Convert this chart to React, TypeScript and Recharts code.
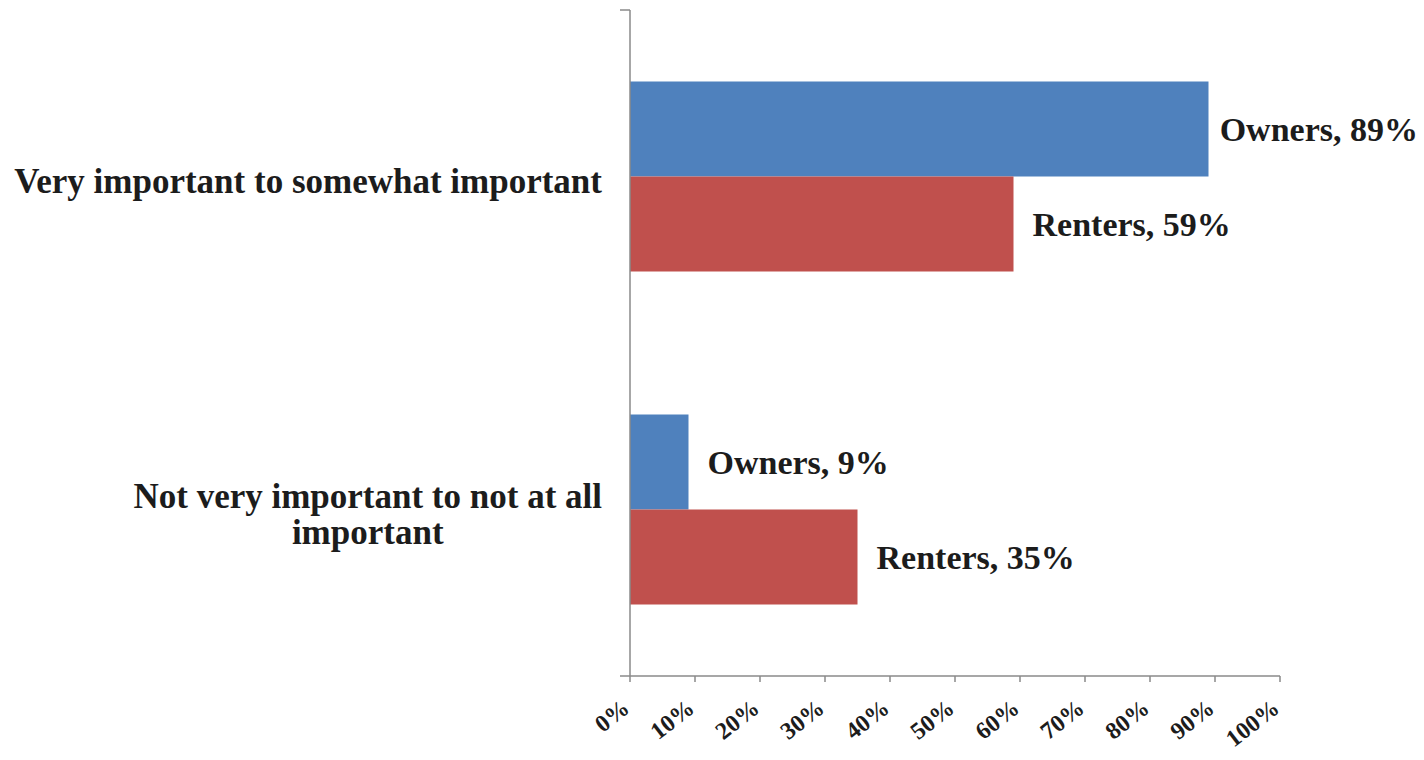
import React from "react";
import { BarChart, Bar, XAxis, YAxis, LabelList } from "recharts";

const CATEGORIES = [
  "Very important to somewhat important",
  "Not very important to not at all important",
];
const CATEGORY_LINES = [
  ["Very important to somewhat important"],
  ["Not very important to not at all", "important"],
];
const OWNERS = [89, 9];
const RENTERS = [59, 35];
const SERIES_NAMES = ["Owners", "Renters"];
const X_TICKS = [0, 10, 20, 30, 40, 50, 60, 70, 80, 90, 100];
const FRAME_TICKS = [0, 1, 2];

const data = CATEGORIES.map((c, i) => ({
  category: c,
  owners: OWNERS[i],
  renters: RENTERS[i],
}));

const W = 1424;
const H = 760;
const FONT = "'Liberation Serif', 'Times New Roman', serif";
const TEXT_COLOR = "#1c1c1c";
const AXIS_COLOR = "#8a8a8a";

let ctx: CanvasRenderingContext2D | null = null;
function measure(text: string, size: number): number {
  try {
    if (!ctx) ctx = document.createElement("canvas").getContext("2d");
    if (ctx) {
      ctx.font = `bold ${size}px 'Liberation Serif'`;
      return ctx.measureText(text).width;
    }
  } catch (e) {}
  return text.length * size * 0.5;
}

const CAT_FONT = 35;
const LINE_H = 36;

const CategoryTick = (props: any) => {
  const { x, y, payload, index } = props;
  const lines: string[] = CATEGORY_LINES[index] || [String(payload.value)];
  const widths = lines.map((l) => measure(l, CAT_FONT));
  const maxW = Math.max(...widths);
  const right = x + 10;
  const cx = right - maxW / 2;
  const startY = y + 4 - ((lines.length - 1) * LINE_H) / 2;
  return (
    <text
      x={cx}
      y={startY}
      textAnchor="middle"
      dominantBaseline="central"
      fontFamily={FONT}
      fontWeight="bold"
      fontSize={CAT_FONT}
      fill={TEXT_COLOR}
    >
      {lines.map((l, i) => (
        <tspan key={i} x={cx} y={startY + i * LINE_H}>
          {l}
        </tspan>
      ))}
    </text>
  );
};

const XTick = (props: any) => {
  const { x, y, payload } = props;
  const ax = x + 1;
  const ay = y + 27;
  return (
    <text
      x={ax}
      y={ay}
      textAnchor="end"
      transform={`rotate(-38, ${ax}, ${ay})`}
      fontFamily={FONT}
      fontWeight="bold"
      fontSize={24}
      fill={TEXT_COLOR}
    >
      {`${payload.value}%`}
    </text>
  );
};

const LABEL_FONT = 34;
const makeLabel = (name: string) => (props: any) => {
  const { x, y, width, height, value } = props;
  const text = `${name}, ${value}%`;
  const tw = measure(text, LABEL_FONT);
  let lx = x + width + 19;
  if (lx + tw > W - 6) lx = W - 6 - tw;
  return (
    <text
      x={lx}
      y={y + height / 2}
      dominantBaseline="central"
      fontFamily={FONT}
      fontWeight="bold"
      fontSize={LABEL_FONT}
      fill={TEXT_COLOR}
    >
      {text}
    </text>
  );
};

export default function App() {
  return (
    <div style={{ position: "absolute", left: 0, top: 0, width: W, height: H, background: "#fff" }}>
      <BarChart
        width={W}
        height={H}
        data={data}
        layout="vertical"
        margin={{ top: 10, right: 144, bottom: 0, left: 0 }}
        barCategoryGap="21.5%"
        barGap={0}
      >
        <YAxis
          yAxisId={0}
          type="number"
          domain={[0, 2]}
          ticks={FRAME_TICKS}
          width={30}
          tickFormatter={() => ""}
          tickSize={10}
          axisLine={{ stroke: AXIS_COLOR, strokeWidth: 1.5 }}
          tickLine={{ stroke: AXIS_COLOR, strokeWidth: 1.5 }}
          allowDataOverflow
        />
        <YAxis
          yAxisId={1}
          type="category"
          dataKey="category"
          width={600}
          axisLine={false}
          tickLine={false}
          tick={<CategoryTick />}
        />
        <XAxis
          type="number"
          domain={[0, 100]}
          ticks={X_TICKS}
          height={84}
          interval={0}
          tickSize={6}
          axisLine={{ stroke: AXIS_COLOR, strokeWidth: 1.5 }}
          tickLine={{ stroke: AXIS_COLOR, strokeWidth: 1.5 }}
          tick={<XTick />}
        />
        <Bar yAxisId={1} dataKey="owners" name={SERIES_NAMES[0]} fill="#4F81BD" isAnimationActive={false}>
          <LabelList dataKey="owners" content={makeLabel(SERIES_NAMES[0])} />
        </Bar>
        <Bar yAxisId={1} dataKey="renters" name={SERIES_NAMES[1]} fill="#C0504D" isAnimationActive={false}>
          <LabelList dataKey="renters" content={makeLabel(SERIES_NAMES[1])} />
        </Bar>
      </BarChart>
    </div>
  );
}
